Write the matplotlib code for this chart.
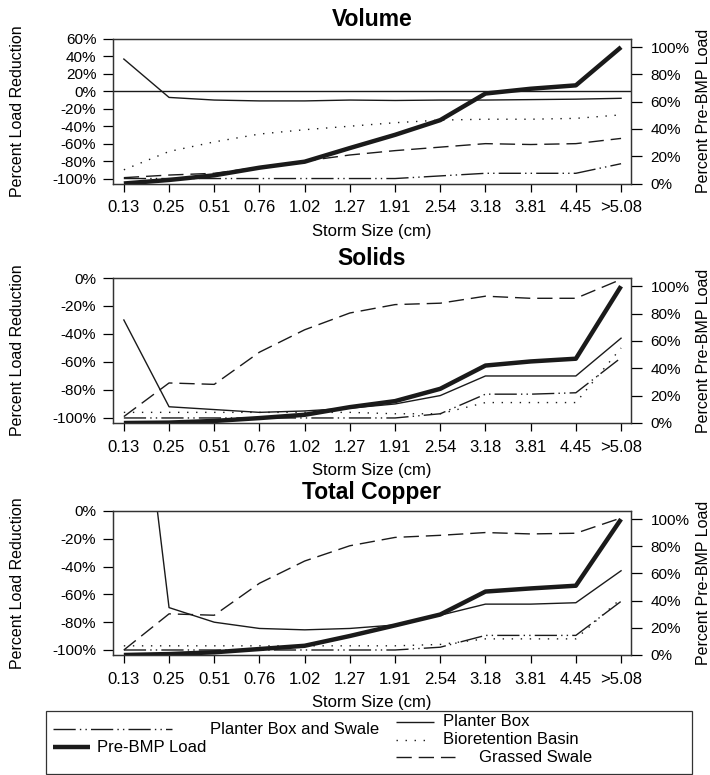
import numpy as np
import matplotlib
matplotlib.use("Agg")
import matplotlib.pyplot as plt
from matplotlib.lines import Line2D
from matplotlib.patches import Rectangle
from matplotlib.ticker import FuncFormatter

plt.rcParams['font.family'] = ['Liberation Sans', 'DejaVu Sans']

storm_sizes = ['0.13', '0.25', '0.51', '0.76', '1.02', '1.27', '1.91', '2.54',
               '3.18', '3.81', '4.45', '>5.08']

# percent load reduction (left axis) and pre-BMP load (right axis)
vol_planter = [37, -7, -10, -11, -11, -10, -10.5, -10, -10, -9.5, -9, -8]
vol_bio = [-90, -69, -58, -49, -44, -40, -36, -33, -32, -32, -31, -27]
vol_swale = [-99, -96, -94, -87, -80, -73, -68, -64, -60, -61, -60, -54]
vol_pbs = [-100, -100, -100, -100, -100, -100, -100, -97, -94, -94, -94, -83]
vol_load = [0, 2.6, 6, 11.6, 16, 26, 35.7, 46.5, 66, 69.5, 72, 100]

sol_planter = [-30, -92, -94, -96, -95, -93, -90, -84, -70, -70, -70, -43]
sol_bio = [-96, -96, -96, -96, -96, -96, -97, -97, -89, -89, -89, -50]
sol_swale = [-99, -75, -76, -53, -37, -25, -19, -18, -13, -14.5, -14.5, -1]
sol_pbs = [-100, -100, -100, -100, -100, -100, -100, -97, -83, -83, -82, -57]
sol_load = [0, 0.3, 1.5, 3.6, 6, 11.6, 16, 25, 42, 45, 47, 100]

cu_planter = [200, -69.5, -80, -84.5, -85.5, -84.5, -82, -75, -67, -67, -66, -43]
cu_bio = [-97, -97, -97, -97, -97, -97, -97, -96, -92, -92, -92, -63]
cu_swale = [-100, -74, -75, -52, -36, -25, -19, -17.5, -15.5, -16.5, -16, -5]
cu_pbs = [-100, -100, -100, -100, -100, -100, -100, -98, -89.5, -89.5, -89.5, -65]
cu_load = [0, 0.7, 2, 4.4, 6.8, 14, 21.8, 29.8, 46.7, 49, 51, 100]

titles = ['Volume', 'Solids', 'Total Copper']

INK = '#1a1a1a'
styles = {
    'Planter Box and Swale': dict(ls=(0, (16, 3, 1, 3, 1, 3)), lw=1.0),
    'Planter Box': dict(ls='-', lw=1.0),
    'Bioretention Basin': dict(ls=(0, (1, 5.5)), lw=1.0),
    'Grassed Swale': dict(ls=(0, (11, 5)), lw=1.0),
    'Pre-BMP Load': dict(ls='-', lw=3.2),
}

W, H = 710, 775
fig = plt.figure(figsize=(W / 100, H / 100), dpi=100)


def px_rect(left, top, right, bottom):
    return [left / W, 1 - bottom / H, (right - left) / W, (bottom - top) / H]


pct = FuncFormatter(lambda v, p: '%d%%' % round(v))

panels = [
    (titles[0], vol_pbs, vol_planter, vol_bio, vol_swale, vol_load,
     (39, 183.5), (-105.7, 60), np.arange(-100, 61, 20)),
    (titles[1], sol_pbs, sol_planter, sol_bio, sol_swale, sol_load,
     (278, 423), (-103.6, 0), np.arange(-100, 1, 20)),
    (titles[2], cu_pbs, cu_planter, cu_bio, cu_swale, cu_load,
     (511, 655), (-103.6, 0), np.arange(-100, 1, 20)),
]

x = np.arange(len(storm_sizes))

for title, pbs, planter, bio, swale, load, (top, bottom), ylim, yt in panels:
    ax = fig.add_axes(px_rect(113, top, 631, bottom))
    ax.plot(x, pbs, color=INK, **styles['Planter Box and Swale'])
    ax.plot(x, planter, color=INK, **styles['Planter Box'])
    ax.plot(x, bio, color=INK, **styles['Bioretention Basin'])
    ax.plot(x, swale, color=INK, **styles['Grassed Swale'])
    if ylim[1] > 0:
        ax.axhline(0, color=INK, lw=1.0)
    ax.set_xlim(-0.24, 11.22)
    ax.set_ylim(*ylim)
    ax.set_yticks(yt)
    ax.yaxis.set_major_formatter(pct)
    ax.set_xticks(x)
    ax.set_xticklabels(storm_sizes)
    ax.tick_params(axis='x', length=6, width=0.9, pad=6, labelsize=12)
    ax.tick_params(axis='y', length=7, width=0.9, pad=5, labelsize=11)
    for s in ax.spines.values():
        s.set_linewidth(0.9)
        s.set_color('#333333')
    ax.set_title(title, fontsize=16.5, fontweight='bold', pad=9)
    ax.set_xlabel('Storm Size (cm)', fontsize=12, va='center')
    ax.xaxis.set_label_coords(0.5, -48 / (bottom - top))

    ax2 = ax.twinx()
    ax2.plot(x, load, color=INK, solid_capstyle='butt', **styles['Pre-BMP Load'])
    ax2.set_ylim(0, 106)
    ax2.set_yticks(np.arange(0, 101, 20))
    ax2.yaxis.set_major_formatter(pct)
    ax2.tick_params(axis='y', length=8, width=0.9, pad=6, labelsize=11)
    for s in ax2.spines.values():
        s.set_linewidth(0.9)
        s.set_color('#333333')

    mid = 1 - (top + bottom) / 2 / H
    fig.text(17.5 / W, mid, 'Percent Load Reduction', rotation=90,
             ha='center', va='center', fontsize=11.5)
    fig.text(703 / W, mid, 'Percent Pre-BMP Load', rotation=90,
             ha='center', va='center', fontsize=11.5)

# legend box drawn by hand to keep the original's uneven layout
fig.add_artist(Rectangle((46 / W, 1 - 774 / H), 646 / W, 63 / H,
                         transform=fig.transFigure, fill=False,
                         edgecolor='#333333', lw=0.9))

legend_items = [
    # name, handle x0, handle x1, row y, text x
    ('Planter Box and Swale', 53, 172, 729, 210),
    ('Pre-BMP Load', 53, 90, 747, 97),
    ('Planter Box', 396, 434, 722, 443),
    ('Bioretention Basin', 396, 431, 740, 443),
    ('Grassed Swale', 396, 455, 757, 479),
]
for name, x0, x1, yy, tx in legend_items:
    fig.add_artist(Line2D([x0 / W, x1 / W], [1 - yy / H, 1 - yy / H],
                          transform=fig.transFigure, color=INK,
                          solid_capstyle='butt', **styles[name]))
    fig.text(tx / W, 1 - yy / H, name, ha='left', va='center', fontsize=12)

fig.savefig('out.png', dpi=100)
